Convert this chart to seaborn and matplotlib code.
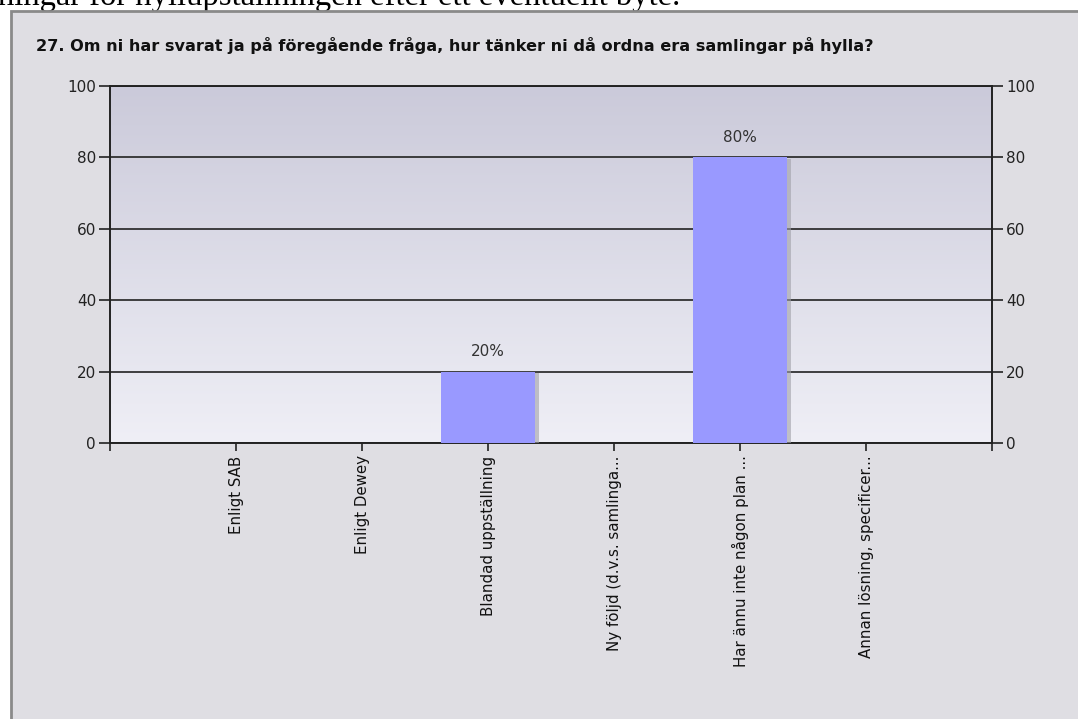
import numpy as np
import pandas as pd
import matplotlib
matplotlib.use("Agg")
import matplotlib.pyplot as plt
import matplotlib.patheffects as pe
from matplotlib.patches import Rectangle
import seaborn as sns

categories = ["Enligt SAB", "Enligt Dewey", "Blandad uppställning",
              "Ny följd (d.v.s. samlinga...", "Har ännu inte någon plan ...",
              "Annan lösning, specificer..."]
values = [0, 0, 20, 0, 80, 0]
yticks = [0, 20, 40, 60, 80, 100]
title = "27. Om ni har svarat ja på föregående fråga, hur tänker ni då ordna era samlingar på hylla?"
doc_text = "ningar för hyllupställningen efter ett eventuellt byte."

sns.set_theme(style="white")
plt.rcParams['font.family'] = ['DejaVu Sans']

W, H = 1078, 719
fig = plt.figure(figsize=(W / 100, H / 100), dpi=100)
fig.patch.set_facecolor("white")

# document text cut off at the top
fig.text(-2 / W, 1 - 4.5 / H, doc_text, family="Liberation Serif", fontsize=23.5,
         ha="left", va="baseline", color="black", zorder=0)

# chart panel
panel = Rectangle((10.5 / W, -0.01), 1.1, (H - 10.5) / H + 0.01, transform=fig.transFigure,
                  facecolor="#DFDEE3", edgecolor="#8A8A8A", linewidth=2, zorder=1)
fig.patches.append(panel)

fig.text(36 / W, 1 - 45 / H, title, fontsize=11.6, fontweight="bold",
         ha="left", va="center", color="#111111", zorder=3)

L, R, T, B = 110, 992, 86, 443
ax = fig.add_axes([L / W, 1 - B / H, (R - L) / W, (B - T) / H])
ax.set_zorder(2)

df = pd.DataFrame({"cat": categories, "val": values})

# gradient background
grad = np.linspace(0, 1, 256).reshape(-1, 1)
top = np.array([203, 202, 218]) / 255
bot = np.array([239, 239, 246]) / 255
img = top[None, None, :] * (1 - grad[:, :, None]) + bot[None, None, :] * grad[:, :, None]
ax.imshow(img, extent=[0, 1, 0, 1], transform=ax.transAxes, aspect="auto", zorder=0)

sns.barplot(data=df, x="cat", y="val", color="#9999FF", width=0.75, ax=ax,
            saturation=1, zorder=3)
for p in ax.patches:
    p.set_edgecolor("none")
    p.set_path_effects([pe.SimplePatchShadow(offset=(2.5, -1), shadow_rgbFace="#A0A0A8", alpha=0.6),
                        pe.Normal()])

labels = [f"{v}%" if v > 0 else "" for v in values]
ax.bar_label(ax.containers[0], labels=labels, padding=9, fontsize=11, color="#333333")

ax.set_xlim(-1, 6)
ax.set_ylim(0, 100)
ax.set_yticks(yticks)
ax.set_yticklabels([str(t) for t in yticks], fontsize=11, color="#222222")
ax.yaxis.grid(True, color="#222222", linewidth=1.2)
ax.set_axisbelow(False)
for gl in ax.get_ygridlines():
    gl.set_zorder(1)
ax.set_xlabel("")
ax.set_ylabel("")
ax.set_xticks(range(len(categories)))
ax.set_xticklabels(categories, rotation=90, fontsize=10.8, color="#111111", va="top")
ax.set_xticks([-1, 6], minor=True)
ax.tick_params(axis="x", which="both", direction="out", length=6, width=1.2, color="#222222", pad=3, bottom=True)
ax.tick_params(axis="y", direction="out", length=8, width=1.2, color="#222222", pad=2, left=True)
for s in ax.spines.values():
    s.set_visible(True)
    s.set_color("#222222")
    s.set_linewidth(1.4)

ax2 = ax.twinx()
ax2.set_ylim(0, 100)
ax2.set_yticks(yticks)
ax2.set_yticklabels([str(t) for t in yticks], fontsize=11, color="#222222")
ax2.tick_params(axis="y", direction="out", length=8, width=1.2, color="#222222", pad=2, right=True)
ax2.grid(False)
for s in ax2.spines.values():
    s.set_visible(False)

fig.savefig("out.png", dpi=100)
